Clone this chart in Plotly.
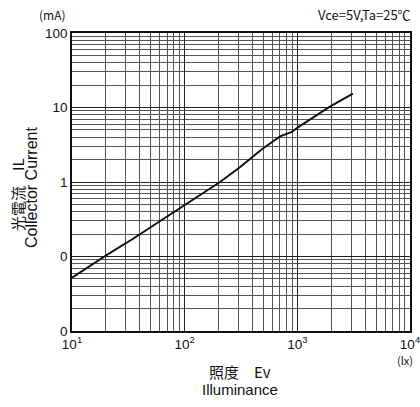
import plotly.graph_objects as go

illuminance = [10, 20.4, 34, 74, 206, 309, 485, 702, 895, 1012, 1945, 3113]
current = [0.052, 0.105, 0.169, 0.366, 1.0, 1.58, 2.75, 4.1, 4.7, 5.4, 10.3, 15.4]

x_tickvals = [10, 100, 1000, 10000]
x_ticktext = ["10<sup>1</sup>", "10<sup>2</sup>", "10<sup>3</sup>", "10<sup>4</sup>"]
y_tickvals = [0.01, 0.1, 1, 10, 100]
y_ticktext = ["0", "0", "1", "10", "100"]

grid = "#555555"
font_main = "Liberation Sans, Arial, sans-serif"
font_cjk = "Noto Sans CJK JP"

fig = go.Figure()
fig.add_trace(go.Scatter(x=illuminance, y=current, mode="lines",
                         line=dict(color="#111111", width=2), showlegend=False))

common = dict(showgrid=True, gridcolor="#222222", gridwidth=1,
              minor=dict(showgrid=True, gridcolor=grid, gridwidth=1, dtick="D1", ticks=""),
              showline=True, linecolor="#111111", linewidth=1.5, mirror=True,
              ticks="", tickfont=dict(family=font_main, size=13.5, color="#111"),
              zeroline=False, automargin=False, ticklabeloverflow="allow")
fig.update_xaxes(type="log", range=[1, 4], tickvals=x_tickvals, ticktext=x_ticktext, **common)
fig.update_yaxes(type="log", range=[-2, 2], tickvals=y_tickvals, ticktext=y_ticktext, **common)

ann = [
    dict(x=52, y=15, text="(mA)", font=dict(family=font_cjk, size=12)),
    dict(x=413, y=15, text="Vce=5V,Ta=25℃", xanchor="right", font=dict(family=font_cjk, size=13)),
    dict(x=17, y=195, text="光電流　IL", textangle=-90, font=dict(family=font_cjk, size=15)),
    dict(x=31, y=188, text="Collector Current", textangle=-90, font=dict(family=font_main, size=16)),
    dict(x=405, y=360, text="(lx)", font=dict(family=font_cjk, size=11)),
    dict(x=240, y=371, text="照度　Ev", font=dict(family=font_cjk, size=15)),
    dict(x=240, y=389, text="Illuminance", font=dict(family=font_main, size=15)),
]
annotations = []
for a in ann:
    d = dict(xref="paper", yref="paper", showarrow=False, xanchor=a.get("xanchor", "center"),
             yanchor="middle", text=a["text"], font=dict(color="#111", **a["font"]),
             textangle=a.get("textangle", 0))
    d["x"] = (a["x"] - 72) / (410 - 72)
    d["y"] = 1 - (a["y"] - 33) / (331 - 33)
    annotations.append(d)

fig.update_layout(width=420, height=407, margin=dict(l=72, r=10, t=33, b=76),
                  plot_bgcolor="white", paper_bgcolor="white", annotations=annotations)
fig.write_html("out.html", config={"displayModeBar": False},
               post_script="document.body.style.margin='0';document.body.style.overflow='hidden';")
